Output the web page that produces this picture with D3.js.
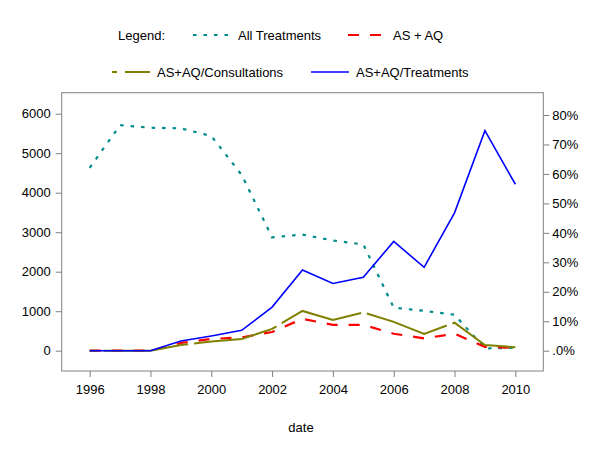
<!DOCTYPE html>
<html><head><meta charset="utf-8">
<script src="https://cdn.jsdelivr.net/npm/d3@7"></script>
<style>body{margin:0;background:#fff}svg text{font-family:"Liberation Sans",Arial,sans-serif;}</style>
</head><body><svg id="c" width="600" height="464"></svg>
<script>
const years = [1996,1997,1998,1999,2000,2001,2002,2003,2004,2005,2006,2007,2008,2009,2010];
const allTreatments = [4630,5710,5645,5630,5435,4450,2870,2940,2790,2690,1090,1010,910,60,70];
const asaq = [0,0,0,196,297,337,473,807,656,656,430,312,430,96,70];
const asaqConsult = [0,0,0,0.019,0.031,0.040,0.074,0.135,0.104,0.130,0.098,0.057,0.095,0.019,0.012];
const asaqTreat = [0,0,0,0.033,0.050,0.069,0.148,0.274,0.228,0.249,0.371,0.283,0.468,0.747,0.565];
const xTicks = [1996,1998,2000,2002,2004,2006,2008,2010];
const yLeftTicks = [0,1000,2000,3000,4000,5000,6000];
const yRightTicks = [0,0.1,0.2,0.3,0.4,0.5,0.6,0.7,0.8];

const svg = d3.select("#c");
const L=61.7, R=543.3, T=92.7, B=371;
const x = d3.scaleLinear().domain([1995.08,2010.92]).range([L,R]);
const yL = d3.scaleLinear().domain([-514,6532]).range([B,T]);
const yR = d3.scaleLinear().domain([-0.0689,0.8757]).range([B,T]);
const grey="#808080";

svg.append("rect").attr("x",L).attr("y",T).attr("width",R-L).attr("height",B-T)
  .attr("fill","none").attr("stroke",grey).attr("stroke-width",1);

const ax = svg.append("g").attr("transform",`translate(0,${B})`)
  .call(d3.axisBottom(x).tickValues(xTicks).tickFormat(d3.format("d")).tickSize(6).tickPadding(8));
const al = svg.append("g").attr("transform",`translate(${L},0)`)
  .call(d3.axisLeft(yL).tickValues(yLeftTicks).tickFormat(d3.format("d")).tickSize(6).tickPadding(5));
const ar = svg.append("g").attr("transform",`translate(${R},0)`)
  .call(d3.axisRight(yR).tickValues(yRightTicks).tickFormat(d=>d===0?".0%":Math.round(d*100)+"%").tickSize(6).tickPadding(3));
[ax,al,ar].forEach(g=>{
  g.select(".domain").remove();
  g.selectAll(".tick line").attr("stroke",grey);
  g.selectAll(".tick text").attr("fill","#000").style("font-size","13px");
});

svg.append("text").attr("x",301).attr("y",432).attr("text-anchor","middle")
  .style("font-size","13px").text("date");

const lineL = d3.line().x((d,i)=>x(years[i])).y(d=>yL(d));
const lineR = d3.line().x((d,i)=>x(years[i])).y(d=>yR(d));

const series = [
  {data:allTreatments, gen:lineL, color:"#008b8b", dash:"3.5,7", off:0, w:2.2},
  {data:asaq, gen:lineL, color:"#ff0000", dash:"11,11", off:0, w:2.2},
  {data:asaqConsult, gen:lineR, color:"#808000", dash:"85,6", off:77, w:2},
  {data:asaqTreat, gen:lineR, color:"#0000ff", dash:null, off:0, w:1.6}
];
series.forEach(s=>{
  svg.append("path").attr("d",s.gen(s.data)).attr("fill","none")
    .attr("stroke",s.color).attr("stroke-width",s.w)
    .attr("stroke-dasharray",s.dash).attr("stroke-dashoffset",s.off);
});

// legend
const lg = svg.append("g").style("font-size","13px");
lg.append("text").attr("x",118).attr("y",40).text("Legend:");
const legItems = [
  {x1:193,x2:233,y:35,tx:238,label:"All Treatments",s:series[0]},
  {x1:348,x2:384,y:35,tx:393,label:"AS + AQ",s:series[1]},
  {x1:112,x2:150,y:72,tx:157,label:"AS+AQ/Consultations",s:series[2],dash:"5,8,30"},
  {x1:311,x2:349,y:72,tx:356,label:"AS+AQ/Treatments",s:series[3]}
];
legItems.forEach(it=>{
  lg.append("line").attr("x1",it.x1).attr("x2",it.x2).attr("y1",it.y).attr("y2",it.y)
    .attr("stroke",it.s.color).attr("stroke-width",it.s.w)
    .attr("stroke-dasharray",it.dash||it.s.dash);
  lg.append("text").attr("x",it.tx).attr("y",it.y+5).text(it.label);
});
</script></body></html>
